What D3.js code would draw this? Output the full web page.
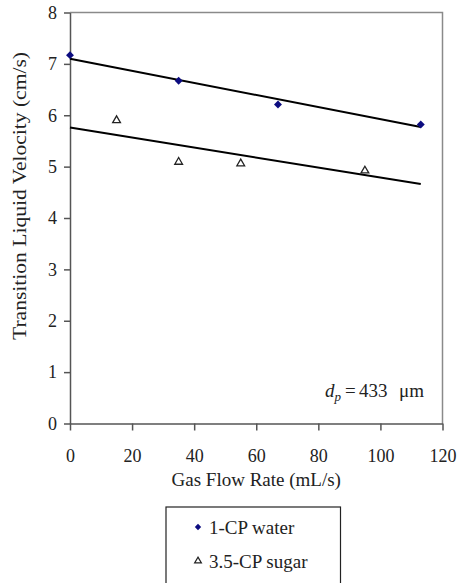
<!DOCTYPE html>
<html><head><meta charset="utf-8">
<script src="https://cdn.jsdelivr.net/npm/d3@7"></script>
<style>body{margin:0;background:#fff}svg text{font-family:"Liberation Serif","Times New Roman",serif;fill:#222}</style>
</head><body><svg id="c" width="462" height="583"></svg>
<script>
const waterX = [0, 35, 67, 113];
const waterY = [7.17, 6.67, 6.21, 5.82];
const sugarX = [15, 35, 55, 95];
const sugarY = [5.90, 5.09, 5.06, 4.92];
const trendX = [0, 113];
const waterTrend = [7.10, 5.77];
const sugarTrend = [5.76, 4.66];
const xTicks = [0, 20, 40, 60, 80, 100, 120];
const yTicks = [0, 1, 2, 3, 4, 5, 6, 7, 8];
const seriesNames = ["1-CP water", "3.5-CP sugar"];

const svg = d3.select("#c");
const L = 70, R = 442.5, T = 12.5, B = 423.5;
const x = d3.scaleLinear().domain([0, 120]).range([L, R]);
const y = d3.scaleLinear().domain([0, 8]).range([B, T]);

svg.append("path").attr("d", `M${L},${T}H${R}V${B}`).attr("fill","none").attr("stroke","#8a8a8a").attr("stroke-width",1.5);

const xa = svg.append("g").attr("transform", `translate(0,${B})`)
  .call(d3.axisBottom(x).tickValues(xTicks).tickSize(7).tickSizeOuter(0).tickPadding(19));
const ya = svg.append("g").attr("transform", `translate(${L},0)`)
  .call(d3.axisLeft(y).tickValues(yTicks).tickSize(6).tickSizeOuter(0).tickPadding(7));
[xa, ya].forEach(g => {
  g.attr("font-family", null).attr("font-size", null);
  g.select(".domain").attr("stroke","#555").attr("stroke-width",1.5);
  g.selectAll(".tick line").attr("stroke","#555").attr("stroke-width",1.5);
  g.selectAll(".tick text").attr("font-size",18).attr("fill","#222");
});

const line = d3.line().x(d => x(d[0])).y(d => y(d[1]));
[waterTrend, sugarTrend].forEach(t => {
  svg.append("path").attr("d", line(trendX.map((v,i)=>[v,t[i]])))
    .attr("fill","none").attr("stroke","#000").attr("stroke-width",2);
});

const diamond = d3.symbol().type(d3.symbolDiamond2).size(40);
const tri = d3.symbol().type(d3.symbolTriangle).size(26);
svg.append("g").selectAll("path").data(waterX.map((v,i)=>[v,waterY[i]])).join("path")
  .attr("d", diamond).attr("transform", d=>`translate(${x(d[0])},${y(d[1])})`).attr("fill","#0c0c80");
svg.append("g").selectAll("path").data(sugarX.map((v,i)=>[v,sugarY[i]])).join("path")
  .attr("d", tri).attr("transform", d=>`translate(${x(d[0])},${y(d[1])})`).attr("fill","#fff").attr("stroke","#222").attr("stroke-width",1.3);

svg.append("text").attr("x", (L+R)/2).attr("y", 486).attr("text-anchor","middle").attr("font-size",19).text("Gas Flow Rate (mL/s)");
svg.append("text").attr("transform", `translate(25.5,196) rotate(-90)`).attr("text-anchor","middle").attr("font-size",19)
  .attr("textLength",288).attr("lengthAdjust","spacingAndGlyphs").text("Transition Liquid Velocity (cm/s)");

const ann = svg.append("text").attr("y", 397).attr("font-size",19);
ann.append("tspan").attr("x",325).attr("font-style","italic").text("d");
ann.append("tspan").attr("font-style","italic").attr("font-size",13).attr("dy",4).text("p");
ann.append("tspan").attr("x",345).attr("dy",-4).text("=");
ann.append("tspan").attr("x",359).text("433");
ann.append("tspan").attr("x",399).text("μm");

svg.append("rect").attr("x",166).attr("y",507).attr("width",174.5).attr("height",90).attr("fill","#fff").attr("stroke","#222").attr("stroke-width",1.2);
svg.append("path").attr("d", d3.symbol().type(d3.symbolDiamond2).size(26)).attr("transform","translate(198,527)").attr("fill","#0c0c80");
svg.append("path").attr("d", d3.symbol().type(d3.symbolTriangle).size(20)).attr("transform","translate(198,561)").attr("fill","#fff").attr("stroke","#222").attr("stroke-width",1.2);
svg.append("text").attr("x",209).attr("y",534).attr("font-size",19).text(seriesNames[0]);
svg.append("text").attr("x",209).attr("y",568).attr("font-size",19).text(seriesNames[1]);
</script></body></html>
